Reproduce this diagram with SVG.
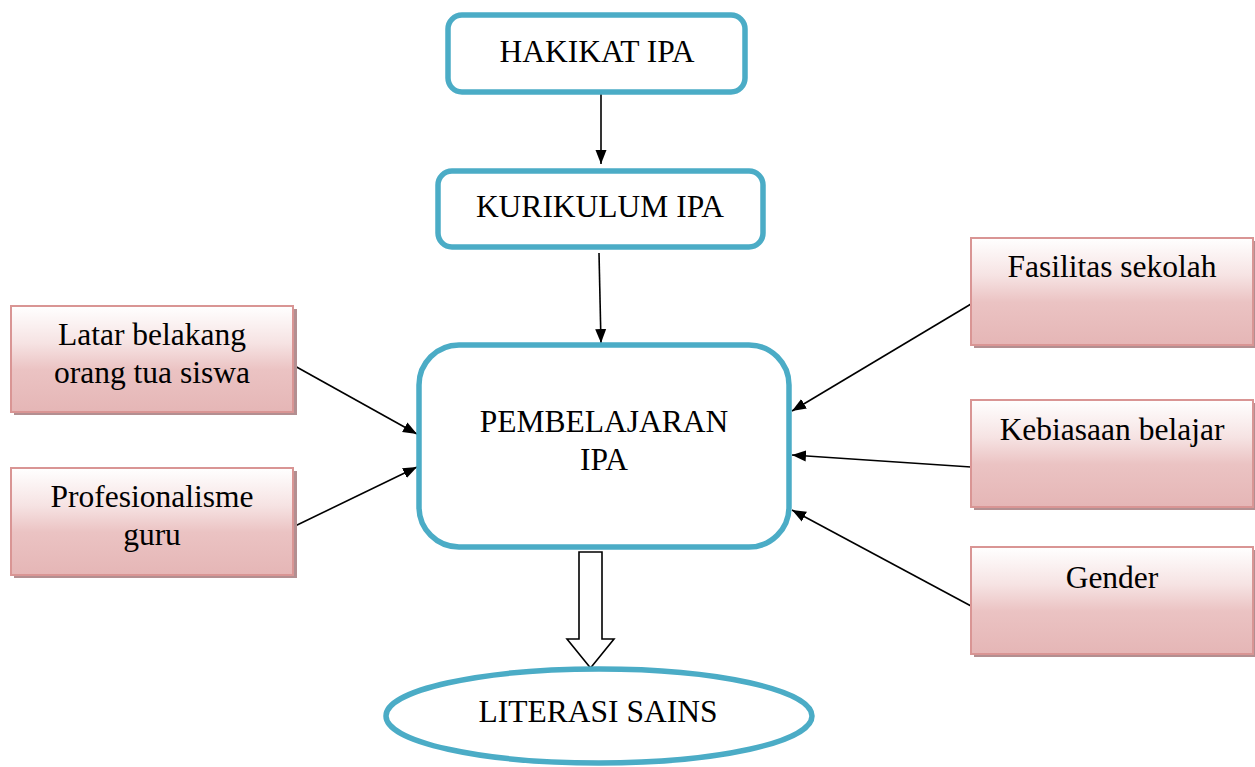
<svg xmlns="http://www.w3.org/2000/svg" width="1255" height="767" viewBox="0 0 1255 767">
<style>
.t{font-family:"Liberation Serif","Times New Roman",serif;font-size:31.5px;fill:#000;text-anchor:middle}
.blue{fill:#fff;stroke:#4BACC6;stroke-width:5.5}
.pink{fill:url(#pg);stroke:#D99594;stroke-width:2}
.sh{fill:#b38f91}
.ln{stroke:#000;stroke-width:1.6;fill:none;marker-end:url(#ah)}
</style>
<defs>
<linearGradient id="pg" x1="0" y1="0" x2="0" y2="1">
<stop offset="0" stop-color="#ffffff"/>
<stop offset="0.35" stop-color="#f6e3e3"/>
<stop offset="0.6" stop-color="#ebc3c3"/>
<stop offset="1" stop-color="#e5b6b6"/>
</linearGradient>
<marker id="ah" markerWidth="14" markerHeight="14" refX="14" refY="7" orient="auto" markerUnits="userSpaceOnUse">
<path d="M0,1.5 L14,7 L0,12.5 Z" fill="#000"/>
</marker>
</defs>
<rect width="1255" height="767" fill="#fff"/>

<g id="connectors">
<line class="ln" x1="601" y1="93" x2="601" y2="164"/>
<line class="ln" x1="599" y1="253" x2="601" y2="343"/>
<line class="ln" x1="293" y1="365" x2="417" y2="434"/>
<line class="ln" x1="293" y1="527" x2="417" y2="467"/>
<line class="ln" x1="971" y1="304" x2="792" y2="411"/>
<line class="ln" x1="971" y1="467" x2="792" y2="455"/>
<line class="ln" x1="971" y1="606" x2="792" y2="510"/>
<path d="M579,552 L602,552 L602,639 L614,639 L590.5,668 L567,639 L579,639 Z" fill="#fff" stroke="#000" stroke-width="1.6"/>
</g>

<g id="hakikat">
<rect class="blue" x="448" y="15" width="297" height="77" rx="14"/>
<text class="t" x="597" y="62">HAKIKAT IPA</text>
</g>
<g id="kurikulum">
<rect class="blue" x="438" y="171" width="325" height="76" rx="14"/>
<text class="t" x="600" y="217">KURIKULUM IPA</text>
</g>
<g id="pembelajaran">
<rect class="blue" x="419" y="345" width="370" height="202" rx="40"/>
<text class="t" x="604" y="432">PEMBELAJARAN</text>
<text class="t" x="604" y="470">IPA</text>
</g>
<g id="literasi">
<ellipse class="blue" cx="599" cy="716" rx="213" ry="47"/>
<text class="t" x="598" y="722">LITERASI SAINS</text>
</g>

<g id="latar">
<rect class="sh" x="14" y="309" width="283" height="106"/>
<rect class="pink" x="11" y="306" width="282" height="106"/>
<text class="t" x="152" y="345">Latar belakang</text>
<text class="t" x="152" y="383">orang tua siswa</text>
</g>
<g id="profesionalisme">
<rect class="sh" x="14" y="471" width="283" height="107"/>
<rect class="pink" x="11" y="468" width="282" height="107"/>
<text class="t" x="152" y="507">Profesionalisme</text>
<text class="t" x="152" y="545">guru</text>
</g>
<g id="fasilitas">
<rect class="sh" x="974" y="241" width="283" height="107"/>
<rect class="pink" x="971" y="238" width="282" height="107"/>
<text class="t" x="1112" y="277">Fasilitas sekolah</text>
</g>
<g id="kebiasaan">
<rect class="sh" x="974" y="403" width="283" height="107"/>
<rect class="pink" x="971" y="400" width="282" height="107"/>
<text class="t" x="1112" y="440">Kebiasaan belajar</text>
</g>
<g id="gender">
<rect class="sh" x="974" y="550" width="283" height="107"/>
<rect class="pink" x="971" y="547" width="282" height="107"/>
<text class="t" x="1112" y="588">Gender</text>
</g>
</svg>
